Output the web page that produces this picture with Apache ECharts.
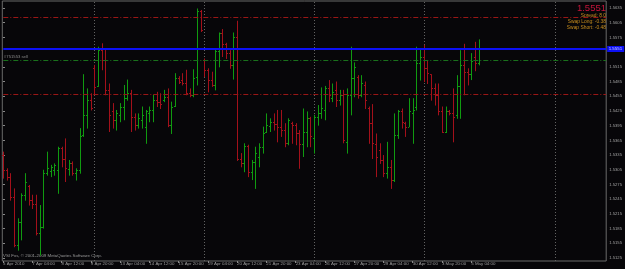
<!DOCTYPE html>
<html>
<head>
<meta charset="utf-8">
<script src="https://cdn.jsdelivr.net/npm/echarts@6.0.0/dist/echarts.min.js"></script>
<style>
html,body{margin:0;padding:0;background:#070609;}
#chart{width:625px;height:269px;}
</style>
</head>
<body>
<div id="chart"></div>
<script>
// ---- data (H4 bars, 5 Apr 2010 20:00 .. 5 May 2010 12:00) ----
const barOpen = [
1.5335,1.5305,1.5291,1.5250,1.5152,1.5199,1.5254,1.5271,1.5243,1.5235,
1.5175,1.5188,1.5298,1.5303,1.5305,1.5305,1.5349,1.5326,1.5306,1.5318,
1.5298,1.5305,1.5376,1.5417,1.5447,1.5512,1.5476,1.5549,1.5529,1.5468,
1.5424,1.5407,1.5417,1.5434,1.5451,1.5461,1.5413,1.5396,1.5407,1.5393,
1.5420,1.5427,1.5447,1.5444,1.5447,1.5454,1.5396,1.5435,1.5492,1.5488,
1.5483,1.5462,1.5458,1.5494,1.5628,1.5529,1.5509,1.5488,1.5478,1.5548,
1.5583,1.5561,1.5543,1.5519,1.5575,1.5326,1.5318,1.5353,1.5301,1.5320,
1.5332,1.5352,1.5383,1.5394,1.5403,1.5398,1.5393,1.5386,1.5360,1.5401,
1.5396,1.5379,1.5358,1.5383,1.5410,1.5369,1.5412,1.5420,1.5427,1.5471,
1.5451,1.5468,1.5447,1.5458,1.5362,1.5458,1.5492,1.5495,1.5458,1.5478,
1.5430,1.5400,1.5358,1.5345,1.5325,1.5298,1.5311,1.5284,1.5376,1.5424,
1.5401,1.5393,1.5420,1.5434,1.5523,1.5536,1.5512,1.5500,1.5471,1.5458,
1.5424,1.5383,1.5424,1.5420,1.5417,1.5476,1.5519,1.5505,1.5500,1.5536,
1.5522];
const barHigh = [
1.5342,1.5308,1.5298,1.5267,1.5206,1.5257,1.5298,1.5274,1.5254,1.5254,
1.5233,1.5305,1.5342,1.5315,1.5318,1.5352,1.5352,1.5369,1.5325,1.5322,
1.5308,1.5390,1.5500,1.5471,1.5461,1.5519,1.5556,1.5563,1.5553,1.5481,
1.5441,1.5427,1.5441,1.5478,1.5489,1.5468,1.5420,1.5420,1.5434,1.5427,
1.5434,1.5458,1.5464,1.5461,1.5468,1.5471,1.5444,1.5502,1.5496,1.5502,
1.5509,1.5471,1.5510,1.5634,1.5631,1.5532,1.5512,1.5505,1.5551,1.5585,
1.5592,1.5564,1.5549,1.5585,1.5609,1.5339,1.5359,1.5356,1.5325,1.5352,
1.5359,1.5393,1.5420,1.5410,1.5420,1.5427,1.5427,1.5400,1.5410,1.5403,
1.5400,1.5386,1.5430,1.5424,1.5413,1.5417,1.5437,1.5473,1.5476,1.5488,
1.5481,1.5485,1.5468,1.5468,1.5471,1.5556,1.5524,1.5498,1.5498,1.5485,
1.5434,1.5439,1.5379,1.5359,1.5335,1.5362,1.5325,1.5420,1.5427,1.5430,
1.5403,1.5451,1.5451,1.5556,1.5553,1.5560,1.5529,1.5500,1.5481,1.5481,
1.5434,1.5434,1.5427,1.5471,1.5498,1.5549,1.5562,1.5512,1.5543,1.5566,
1.5571];
const barLow = [
1.5288,1.5284,1.5243,1.5148,1.5141,1.5162,1.5243,1.5233,1.5226,1.5172,
1.5131,1.5186,1.5294,1.5291,1.5294,1.5257,1.5311,1.5281,1.5294,1.5294,
1.5284,1.5298,1.5373,1.5390,1.5427,1.5458,1.5475,1.5509,1.5458,1.5383,
1.5390,1.5386,1.5403,1.5407,1.5447,1.5383,1.5386,1.5390,1.5390,1.5359,
1.5403,1.5403,1.5434,1.5430,1.5444,1.5393,1.5379,1.5434,1.5481,1.5478,
1.5458,1.5454,1.5454,1.5478,1.5587,1.5495,1.5464,1.5475,1.5468,1.5515,
1.5536,1.5532,1.5512,1.5490,1.5324,1.5311,1.5301,1.5291,1.5285,1.5267,
1.5311,1.5339,1.5381,1.5383,1.5386,1.5362,1.5373,1.5352,1.5356,1.5359,
1.5356,1.5308,1.5332,1.5352,1.5352,1.5339,1.5396,1.5410,1.5407,1.5444,
1.5444,1.5434,1.5437,1.5360,1.5339,1.5417,1.5454,1.5451,1.5454,1.5430,
1.5359,1.5328,1.5291,1.5318,1.5291,1.5288,1.5267,1.5281,1.5369,1.5390,
1.5373,1.5393,1.5359,1.5427,1.5488,1.5485,1.5481,1.5447,1.5437,1.5417,
1.5381,1.5381,1.5417,1.5362,1.5410,1.5410,1.5458,1.5478,1.5489,1.5507,
1.5519];
const barClose = [
1.5305,1.5291,1.5250,1.5152,1.5199,1.5254,1.5281,1.5243,1.5235,1.5175,
1.5188,1.5298,1.5308,1.5311,1.5315,1.5349,1.5326,1.5308,1.5318,1.5298,
1.5305,1.5373,1.5417,1.5447,1.5432,1.5473,1.5549,1.5529,1.5468,1.5417,
1.5407,1.5420,1.5434,1.5451,1.5461,1.5413,1.5396,1.5410,1.5417,1.5424,
1.5427,1.5447,1.5444,1.5439,1.5454,1.5396,1.5434,1.5492,1.5485,1.5483,
1.5462,1.5458,1.5492,1.5628,1.5591,1.5509,1.5488,1.5478,1.5548,1.5583,
1.5561,1.5543,1.5519,1.5575,1.5326,1.5318,1.5353,1.5301,1.5320,1.5339,
1.5352,1.5379,1.5396,1.5403,1.5398,1.5393,1.5386,1.5360,1.5407,1.5396,
1.5379,1.5358,1.5383,1.5410,1.5373,1.5412,1.5420,1.5430,1.5471,1.5458,
1.5464,1.5447,1.5458,1.5366,1.5458,1.5492,1.5515,1.5458,1.5481,1.5447,
1.5400,1.5359,1.5332,1.5325,1.5298,1.5311,1.5284,1.5376,1.5424,1.5403,
1.5393,1.5424,1.5427,1.5523,1.5536,1.5512,1.5502,1.5471,1.5458,1.5424,
1.5383,1.5424,1.5420,1.5413,1.5476,1.5519,1.5505,1.5500,1.5526,1.5522,
1.5551];

// time-axis labels and the bar index each one sits on
const timeLabels = ['5 Apr 2010','7 Apr 04:00','8 Apr 12:00','9 Apr 20:00','13 Apr 04:00',
  '14 Apr 12:00','15 Apr 20:00','19 Apr 04:00','20 Apr 12:00','21 Apr 20:00','23 Apr 04:00',
  '26 Apr 12:00','27 Apr 20:00','29 Apr 04:00','30 Apr 12:00','3 May 20:00','5 May 04:00'];
const timeLabelIdx = [0,8,16,24,32,40,48,56,64,72,80,88,96,104,112,120,128];
// period separators (bar index)
const separatorIdx = [25,55,85,115,151];
// price scale tick labels
const priceTicks = [1.5125,1.5155,1.5185,1.5215,1.5245,1.5275,1.5305,1.5335,1.5365,1.5395,
  1.5425,1.5455,1.5485,1.5515,1.5575,1.5605,1.5635];
// order levels
const stopLevels = [1.5617, 1.5459];
const orderLevels = [1.5528];
const orderText = '#751553 sell';
const infoLines = ['Spread: 8.0','Swap Long: -0.38','Swap Short: -0.48'];
const copyright = 'VSI Fxs, \u00a9 2001-2009 MetaQuotes Software Corp.';

// ---- chart ----
const bid = barClose[barClose.length - 1];
const ohlc = barOpen.map((o, i) => [i, o, barHigh[i], barLow[i], barClose[i]]);
const UP = '#109a10', DOWN = '#a3101a';
const FONT = '"Liberation Sans", Arial, sans-serif';
const labelMap = {};
timeLabelIdx.forEach((v, k) => { labelMap[v] = timeLabels[k]; });

const chart = echarts.init(document.getElementById('chart'), null, {renderer: 'canvas'});
const dashDot = [5, 2, 1, 2];

function hLineSeries(values, color, dash, width, withLabel) {
  return {
    type: 'custom', silent: true, clip: false, z: 3,
    data: values.map(v => [0, v]),
    encode: {x: 0, y: 1},
    renderItem: function (params, api) {
      const cs = params.coordSys;
      const p = api.coord([0, api.value(1)]);
      const y = Math.round(p[1]) + (width % 2 ? 0.5 : 0);
      const kids = [{type: 'line', shape: {x1: cs.x + 1, y1: y, x2: cs.x + cs.width, y2: y},
                     style: {stroke: color, lineWidth: width, lineDash: dash}}];
      if (withLabel) {
        kids.push({type: 'rect', shape: {x: cs.x + cs.width + 1, y: y - 3, width: 17, height: 6},
                   style: {fill: color}});
        kids.push({type: 'text', x: cs.x + cs.width + 2.5, y: y,
                   style: {text: api.value(1).toFixed(4), font: '4.4px ' + FONT, fill: '#dcdcff',
                           verticalAlign: 'middle', align: 'left'}});
      }
      return {type: 'group', children: kids};
    }
  };
}

chart.setOption({
  animation: false,
  backgroundColor: '#070609',
  grid: {left: 1, right: 18, top: 1, bottom: 8, show: true, borderColor: '#6a6a6a', borderWidth: 1, backgroundColor: 'transparent'},
  xAxis: {
    type: 'value', min: -0.19, max: 164.9,
    axisLine: {show: false},
    splitLine: {show: false},
    axisTick: {show: true, customValues: timeLabelIdx, length: 2, lineStyle: {color: '#8a8a8a'}},
    axisLabel: {
      show: true, customValues: timeLabelIdx, margin: 1, align: 'left',
      fontSize: 4.4, color: '#9c9c9c', fontFamily: FONT,
      formatter: v => labelMap[Math.round(v)] || ''
    }
  },
  yAxis: {
    type: 'value', position: 'right', min: 1.511888, max: 1.564928,
    axisLine: {show: false},
    splitLine: {show: false},
    axisTick: {show: true, customValues: priceTicks, length: 2, lineStyle: {color: '#8a8a8a'}},
    axisLabel: {
      show: true, customValues: priceTicks, margin: 3,
      fontSize: 4.2, color: '#a0a0a0', fontFamily: FONT,
      formatter: v => v.toFixed(4)
    }
  },
  series: [
    {
      type: 'custom', silent: true, z: 1,
      data: separatorIdx.map(v => [v, 0]),
      encode: {x: 0, y: 1},
      renderItem: function (params, api) {
        const cs = params.coordSys;
        const p = api.coord([api.value(0), 1.54]);
        const x = Math.round(p[0]) + 0.5;
        return {type: 'line', shape: {x1: x, y1: cs.y + 1, x2: x, y2: cs.y + cs.height},
                style: {stroke: '#626262', lineWidth: 1, lineDash: [1, 2]}};
      }
    },
    hLineSeries(stopLevels, '#9a1616', dashDot, 1, false),
    hLineSeries(orderLevels, '#19701b', dashDot, 1, false),
    {
      type: 'custom', z: 2,
      data: ohlc,
      encode: {x: 0, y: [1, 2, 3, 4]},
      clip: true,
      renderItem: function (params, api) {
        const i = api.value(0), o = api.value(1), h = api.value(2), l = api.value(3), c = api.value(4);
        const ph = api.coord([i, h]), pl = api.coord([i, l]);
        const po = api.coord([i, o]), pc = api.coord([i, c]);
        const x = Math.round(ph[0]) + 0.5;
        const col = c >= o ? UP : DOWN;
        const yo = Math.round(po[1]) + 0.5, yc = Math.round(pc[1]) + 0.5;
        return {
          type: 'group',
          children: [
            {type: 'line', shape: {x1: x, y1: ph[1], x2: x, y2: pl[1] + 0.5}, style: {stroke: col, lineWidth: 1}},
            {type: 'line', shape: {x1: x - 1.5, y1: yo, x2: x - 0.5, y2: yo}, style: {stroke: col, lineWidth: 1}},
            {type: 'line', shape: {x1: x + 0.5, y1: yc, x2: x + 1.5, y2: yc}, style: {stroke: col, lineWidth: 1}}
          ]
        };
      }
    },
    hLineSeries([bid], '#0c10f4', null, 2, true)
  ],
  graphic: [
    {type: 'text', right: 19, top: 3, style: {text: bid.toFixed(4), font: '9.5px ' + FONT, fill: '#c4143a'}},
    {type: 'text', right: 19, top: 13.5, style: {text: infoLines[0], font: '4.9px ' + FONT, fill: '#c88e1e'}},
    {type: 'text', right: 19, top: 19.5, style: {text: infoLines[1], font: '4.9px ' + FONT, fill: '#c88e1e'}},
    {type: 'text', right: 19, top: 25.5, style: {text: infoLines[2], font: '4.9px ' + FONT, fill: '#c88e1e'}},
    {type: 'text', left: 4, top: 55, style: {text: orderText, font: '4.2px ' + FONT, fill: '#8c8c8c'}},
    {type: 'text', left: 3, top: 254, style: {text: copyright, font: '4.4px ' + FONT, fill: '#9a9a9a'}}
  ]
});
</script>
</body>
</html>
